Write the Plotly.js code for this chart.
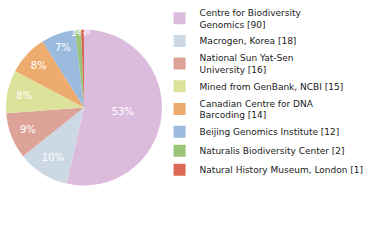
<!DOCTYPE html>
<html>
<head>
<meta charset="utf-8">
<script src="https://cdn.plot.ly/plotly-3.0.1.min.js"></script>
<style>html,body{margin:0;padding:0;background:#fff;}#chart{width:380px;height:240px;}</style>
</head>
<body>
<div id="chart"></div>
<script>
var institutions = [
  "Centre for Biodiversity<br>Genomics",
  "Macrogen, Korea",
  "National Sun Yat-Sen<br>University",
  "Mined from GenBank, NCBI",
  "Canadian Centre for DNA<br>Barcoding",
  "Beijing Genomics Institute",
  "Naturalis Biodiversity Center",
  "Natural History Museum, London"
];
var counts = [90, 18, 16, 15, 14, 12, 2, 1];
var sliceColors = ["#dcbcdc", "#ccd8e4", "#dda399", "#dde29b", "#eeab6e", "#9abade", "#9ac478", "#dd6755"];

var total = counts.reduce(function(a, b) { return a + b; }, 0);
var legendLabels = institutions.map(function(n, i) { return n + " [" + counts[i] + "]"; });
var pctText = counts.map(function(v) { return Math.floor(v / total * 100) + "%"; });

var trace = {
  type: "pie",
  labels: legendLabels,
  values: counts,
  text: pctText,
  textinfo: "text",
  textposition: "inside",
  insidetextorientation: "horizontal",
  sort: false,
  direction: "clockwise",
  rotation: 0,
  marker: { colors: sliceColors, line: { width: 0 } },
  textfont: { family: "DejaVu Sans", size: 10, color: "#ffffff" },
  hoverinfo: "none",
  domain: { x: [0.0158, 0.4263], y: [0.227, 0.877] }
};

var layout = {
  width: 380,
  height: 240,
  margin: { l: 0, r: 0, t: 0, b: 0 },
  paper_bgcolor: "#ffffff",
  showlegend: true,
  uniformtext: { minsize: 10, mode: "show" },
  legend: {
    x: 0.42, y: 1.0, xanchor: "left", yanchor: "top",
    font: { family: "DejaVu Sans", size: 9, color: "#1a1a1a" },
    traceorder: "normal",
    bgcolor: "rgba(0,0,0,0)"
  }
};

Plotly.newPlot("chart", [trace], layout, { staticPlot: true, displayModeBar: false });
</script>
</body>
</html>
